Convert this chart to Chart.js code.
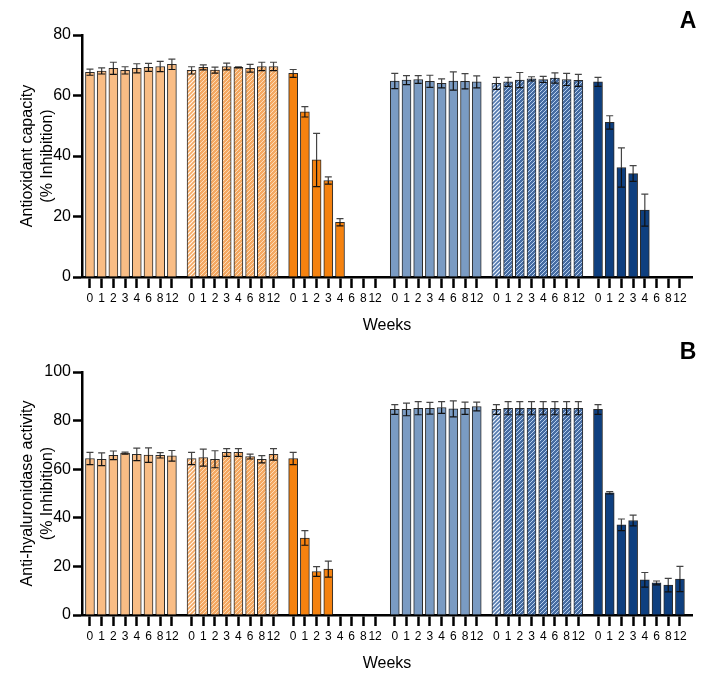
<!DOCTYPE html>
<html>
<head>
<meta charset="utf-8">
<script src="https://cdn.jsdelivr.net/npm/chart.js@4.4.1/dist/chart.umd.min.js"></script>
<style>
  html, body { margin: 0; padding: 0; background: #fff; }
  .panel { position: absolute; left: 0; width: 714px; }
  #wrapA { top: 0; height: 337px; }
  #wrapB { top: 337px; height: 338px; }
</style>
</head>
<body>
<div class="panel" id="wrapA"><canvas id="chartA"></canvas></div>
<div class="panel" id="wrapB"><canvas id="chartB"></canvas></div>
<script>
const weeks = ["0", "1", "2", "3", "4", "6", "8", "12"];

// panel A: antioxidant capacity (% inhibition), one row per formulation
const antioxMean = [
    [67.7, 68.1, 69.0, 68.3, 69.0, 69.3, 69.6, 70.3],
    [68.3, 69.3, 68.4, 69.6, 69.3, 69.0, 69.6, 69.6],
    [67.3, 54.6, 38.7, 31.9, 18.1, null, null, null],
    [64.8, 65.1, 65.3, 64.7, 64.0, 64.8, 64.7, 64.5],
    [64.0, 64.5, 65.1, 65.5, 65.3, 65.8, 65.3, 65.0],
    [64.5, 51.1, 36.2, 34.2, 22.1, null, null, null]
];
const antioxSD = [
    [1.0, 1.0, 2.0, 1.2, 1.5, 1.3, 1.7, 1.7],
    [1.2, 0.8, 1.0, 1.1, 0.2, 1.3, 1.4, 1.4],
    [1.3, 1.7, 8.8, 1.2, 1.2, null, null, null],
    [2.5, 1.5, 1.3, 2.0, 1.5, 3.0, 2.5, 2.0],
    [2.0, 1.5, 2.5, 0.7, 1.0, 1.7, 2.0, 2.0],
    [1.5, 2.2, 6.5, 2.6, 5.3, null, null, null]
];

// panel B: anti-hyaluronidase activity (% inhibition)
const hyalMean = [
    [64.4, 64.1, 65.7, 66.6, 66.1, 65.8, 65.7, 65.5],
    [64.4, 64.8, 64.1, 66.9, 66.9, 65.2, 64.1, 66.1],
    [64.4, 31.7, 17.9, 18.9, null, null, null, null],
    [84.6, 84.6, 85.1, 85.1, 85.4, 84.8, 85.1, 85.8],
    [84.6, 85.1, 85.1, 85.1, 85.1, 85.1, 85.1, 85.1],
    [84.6, 50.3, 37.1, 38.9, 14.5, 13.2, 12.3, 14.8]
];
const hyalSD = [
    [2.5, 2.6, 1.8, 0.4, 2.6, 3.0, 1.1, 2.2],
    [2.5, 3.5, 3.5, 1.6, 1.6, 1.0, 1.5, 2.4],
    [2.5, 3.0, 2.0, 3.3, null, null, null, null],
    [2.0, 2.6, 2.7, 2.4, 2.4, 3.3, 2.5, 1.8],
    [2.0, 2.7, 2.7, 2.7, 2.7, 2.7, 2.7, 2.7],
    [2.0, 0.5, 2.4, 2.2, 3.0, 0.8, 2.8, 5.2]
];

Chart.defaults.font.family = "'Liberation Sans', Arial, sans-serif";
Chart.defaults.color = "#000";

const groupStride = 8.68;   // slots between first bars of neighbouring groups

function stripes(bg, fg, lw) {
    const c = document.createElement("canvas");
    c.width = 4; c.height = 4;
    const g = c.getContext("2d");
    g.fillStyle = bg;
    g.fillRect(0, 0, 4, 4);
    g.strokeStyle = fg;
    g.lineWidth = lw;
    g.beginPath();
    g.moveTo(-1, 5); g.lineTo(5, -1);
    g.moveTo(-1, 1); g.lineTo(1, -1);
    g.moveTo(3, 5); g.lineTo(5, 3);
    g.stroke();
    return g.createPattern(c, "repeat");
}

const fills = [
    ["#F9BD85", "#F9BD85"],
    [stripes("#FFF6EC", "#F4A862", 1.6), stripes("#F4A862", "#FCDCB8", 1)],
    ["#F5820F", "#F5820F"],
    ["#7A9BC3", "#7A9BC3"],
    [stripes("#EEF4FC", "#5278AE", 1.6), stripes("#466CA2", "#B8D0EE", 1)],
    ["#0E3F7F", "#0E3F7F"]
];

const tickPos = [];
for (let g = 0; g < 6; g++) {
    for (let w = 0; w < weeks.length; w++) tickPos.push(g * groupStride + w);
}

const errorBars = {
    id: "errorBars",
    afterDatasetsDraw(chart) {
        const ctx = chart.ctx;
        const ys = chart.scales.y;
        ctx.save();
        ctx.lineWidth = 1.2;
        chart.data.datasets.forEach((ds, di) => {
            const meta = chart.getDatasetMeta(di);
            meta.data.forEach((bar, i) => {
                const p = ds.data[i];
                if (p.sd == null) return;
                const top = ys.getPixelForValue(p.y + p.sd);
                const bot = ys.getPixelForValue(p.y - p.sd);
                const x = bar.x;
                ctx.strokeStyle = "#444";
                ctx.beginPath();
                ctx.moveTo(x, top); ctx.lineTo(x, bar.y);
                ctx.moveTo(x - 3.5, top); ctx.lineTo(x + 3.5, top);
                ctx.stroke();
                ctx.strokeStyle = "#111";
                ctx.beginPath();
                ctx.moveTo(x, bar.y); ctx.lineTo(x, bot);
                ctx.moveTo(x - 3.5, bot); ctx.lineTo(x + 3.5, bot);
                ctx.stroke();
            });
        });
        ctx.restore();
    }
};

const panelLetter = {
    id: "panelLetter",
    afterDraw(chart, args, opts) {
        const ctx = chart.ctx;
        ctx.save();
        ctx.font = "bold 23px 'Liberation Sans', Arial, sans-serif";
        ctx.fillStyle = "#000";
        ctx.textAlign = "center";
        ctx.textBaseline = "middle";
        ctx.fillText(opts.text, 688, opts.y);
        ctx.restore();
    }
};

function buildChart(id, means, sds, yMax, yTitle, letter, letterY) {
    const datasets = means.map((row, g) => {
        const pts = [];
        row.forEach((v, w) => {
            if (v != null) pts.push({ x: g * groupStride + w, y: v, sd: sds[g][w], w: w });
        });
        return {
            data: pts,
            backgroundColor: c => (c.raw && c.raw.w === 0 ? fills[g][0] : fills[g][1]),
            borderColor: "#2b2b2b",
            borderWidth: 1,
            barThickness: 9,
            grouped: false
        };
    });

    return new Chart(document.getElementById(id), {
        type: "bar",
        data: { datasets: datasets },
        options: {
            responsive: true,
            maintainAspectRatio: false,
            animation: false,
            layout: { padding: { top: 35, right: 22, bottom: 0, left: 0 } },
            plugins: {
                legend: { display: false },
                tooltip: { enabled: false },
                panelLetter: { text: letter, y: letterY }
            },
            scales: {
                x: {
                    type: "linear",
                    min: -0.68,
                    max: 5 * groupStride + 8.03,
                    offset: false,
                    afterBuildTicks: s => { s.ticks = tickPos.map(v => ({ value: v })); },
                    afterFit: s => { s.height = 60; },
                    ticks: {
                        autoSkip: false,
                        maxRotation: 0,
                        padding: 3,
                        font: { size: 12 },
                        callback: (v, i) => weeks[i % weeks.length]
                    },
                    grid: {
                        drawOnChartArea: false,
                        offset: false,
                        tickLength: 11,
                        tickWidth: 2.5,
                        tickColor: "#000"
                    },
                    border: { color: "#000", width: 2.5 },
                    title: {
                        display: true,
                        text: "Weeks",
                        font: { size: 16, lineHeight: 1.2 },
                        padding: { top: 0, bottom: 2 }
                    }
                },
                y: {
                    min: 0,
                    max: yMax,
                    afterFit: s => { s.width = 82; },
                    ticks: { stepSize: 20, padding: 2, font: { size: 16 } },
                    grid: {
                        drawOnChartArea: false,
                        tickLength: 9,
                        tickWidth: 2.5,
                        tickColor: "#000"
                    },
                    border: { color: "#000", width: 2.5 },
                    title: {
                        display: true,
                        text: yTitle,
                        font: { size: 16, lineHeight: 1.25 },
                        padding: { top: 18, bottom: 0 }
                    }
                }
            }
        },
        plugins: [errorBars, panelLetter]
    });
}

buildChart("chartA", antioxMean, antioxSD, 80,
    ["Antioxidant capacity", "(% Inhibition)"], "A", 22);
buildChart("chartB", hyalMean, hyalSD, 100,
    ["Anti-hyaluronidase activity", "(% Inhibition)"], "B", 16);
</script>
</body>
</html>
